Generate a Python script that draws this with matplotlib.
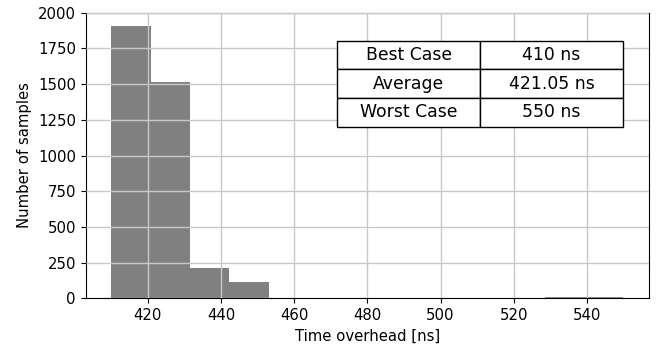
import numpy as np
import matplotlib.pyplot as plt

# histogram of measured overhead, 13 bins between best and worst case
bin_edges = np.linspace(410, 550, 14)
counts = [1905, 1515, 214, 114, 0, 0, 0, 0, 0, 0, 0, 6, 6]

table_rows = [["Best Case", "410 ns"],
              ["Average", "421.05 ns"],
              ["Worst Case", "550 ns"]]

fig = plt.figure(figsize=(6.57, 3.45), dpi=100)
ax = fig.add_axes([85.7 / 657, 1 - 298.3 / 345, 563.3 / 657, 285.6 / 345])

widths = np.diff(bin_edges)
ax.bar(bin_edges[:-1], counts, width=widths, align="edge", color="gray")

ax.set_xlim(403, 557)
ax.set_ylim(0, 2000)
ax.set_yticks(np.arange(0, 2001, 250))
ax.set_xticks(np.arange(420, 541, 20))
ax.grid(True, color="#c8c8c8", linewidth=1)
ax.set_axisbelow(False)
ax.tick_params(labelsize=10.7)

ax.set_xlabel("Time overhead [ns]", fontsize=10.7)
ax.set_ylabel("Number of samples", fontsize=10.7)

tbl = ax.table(cellText=table_rows, cellLoc="center",
               bbox=[0.4467, 0.601, 0.5067, 0.301])
tbl.auto_set_font_size(False)
tbl.set_fontsize(12.4)
tbl.set_zorder(5)
for cell in tbl.get_celld().values():
    cell.set_linewidth(1)

fig.savefig("out.png", dpi=100)
